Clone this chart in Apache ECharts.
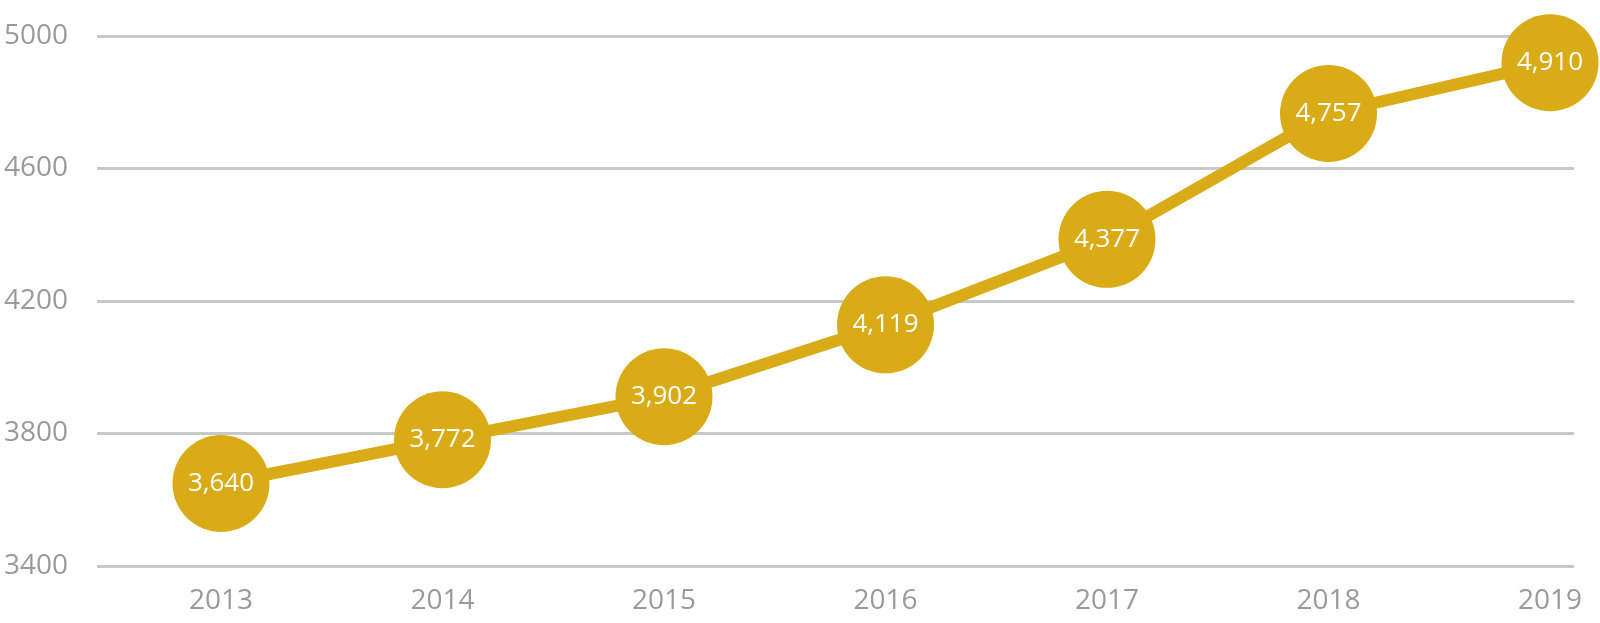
<!DOCTYPE html>
<html>
<head>
<meta charset="utf-8">
<script src="https://cdn.jsdelivr.net/npm/echarts@6/dist/echarts.min.js"></script>
<style>html,body{margin:0;padding:0;background:#fff;}#c{width:1600px;height:623px;}</style>
</head>
<body>
<div id="c"></div>
<script>
const years = ['2013', '2014', '2015', '2016', '2017', '2018', '2019'];
const values = [3640, 3772, 3902, 4119, 4377, 4757, 4910];
const yMin = 3400, yMax = 5000, yStep = 400;

const gold = '#D9AB16';
const chart = echarts.init(document.getElementById('c'));
chart.setOption({
  backgroundColor: '#ffffff',
  animation: false,
  grid: [
    { left: 97, right: 26, top: 36, bottom: 57 },
    { left: 221, right: 50, top: 33, bottom: 60 }
  ],
  xAxis: [
    { gridIndex: 0, type: 'category', data: years, show: false },
    {
      gridIndex: 1, type: 'category', data: years, boundaryGap: false,
      axisLine: { show: false }, axisTick: { show: false },
      axisLabel: { color: '#9a9a9a', fontSize: 28, fontFamily: 'Open Sans', margin: 24 },
      splitLine: { show: false }
    }
  ],
  yAxis: [
    {
      gridIndex: 0, type: 'value', min: yMin, max: yMax, interval: yStep,
      axisLine: { show: false }, axisTick: { show: false },
      axisLabel: { color: '#9a9a9a', fontSize: 28, fontFamily: 'Open Sans', margin: 29,
        formatter: v => String(v) },
      splitLine: { lineStyle: { color: '#c8c8c8', width: 3 } }
    },
    {
      gridIndex: 1, type: 'value', min: yMin, max: yMax, interval: yStep, show: false,
      splitLine: { show: false }
    }
  ],
  series: [{
    type: 'line',
    xAxisIndex: 1, yAxisIndex: 1,
    data: values,
    symbol: 'circle',
    symbolSize: 97,
    lineStyle: { color: gold, width: 12 },
    itemStyle: { color: gold },
    label: {
      show: true, position: 'inside', color: '#ffffff',
      fontSize: 26, fontFamily: 'Open Sans',
      formatter: p => p.value.toLocaleString('en-US')
    }
  }]
});
</script>
</body>
</html>
